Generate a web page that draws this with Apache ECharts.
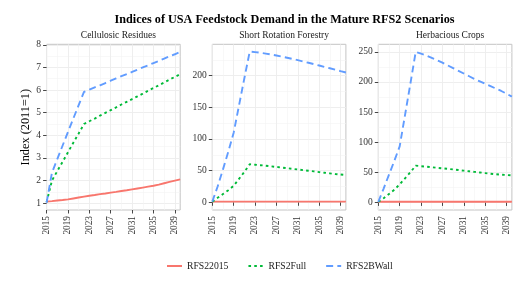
<!DOCTYPE html>
<html><head><meta charset="utf-8">
<script src="https://cdn.jsdelivr.net/npm/echarts@6/dist/echarts.min.js"></script>
<style>html,body{margin:0;padding:0;background:#fff}#c{width:528px;height:284px}</style>
</head><body><div id="c"></div>
<script>
const years = [2015,2016,2017,2018,2019,2020,2021,2022,2023,2024,2025,2026,2027,2028,2029,2030,2031,2032,2033,2034,2035,2036,2037,2038,2039,2040];
const panels = ['Cellulosic Residues','Short Rotation Forestry','Herbacious Crops'];
const scenarios = ['RFS22015','RFS2Full','RFS2BWall'];

// Cellulosic Residues
const crRFS22015 = [1.07,1.09,1.12,1.14,1.17,1.21,1.25,1.29,1.33,1.36,1.40,1.43,1.47,1.50,1.54,1.57,1.61,1.65,1.69,1.73,1.77,1.82,1.88,1.94,2.00,2.05];
const crRFS2Full = [1.05,2.00,2.42,2.83,3.25,3.67,4.08,4.50,4.62,4.74,4.87,4.99,5.11,5.23,5.36,5.48,5.60,5.72,5.84,5.97,6.09,6.21,6.33,6.46,6.58,6.70];
const crRFS2BWall = [1.02,2.35,2.95,3.55,4.15,4.74,5.33,5.92,6.02,6.12,6.21,6.31,6.41,6.51,6.61,6.70,6.80,6.90,7.00,7.09,7.19,7.29,7.39,7.49,7.58,7.68];
// Short Rotation Forestry
const srfRFS22015 = [1,1,1,1,1,1,1,1,1,1,1,1,1,1,1,1,1,1,1,1,1,1,1,1,1,1];
const srfRFS2Full = [1,7,13,19,26,37,48,60,59.4,58.6,57.7,56.8,55.8,54.8,53.8,52.8,51.8,50.8,49.8,48.8,47.7,46.7,45.7,44.7,43.8,43.0];
const srfRFS2BWall = [1,25,52,80,110,153,196,238,237.3,236.2,234.9,233.5,231.9,230.2,228.4,226.5,224.5,222.5,220.4,218.3,216.1,213.9,211.7,209.5,207.2,205.0];
// Herbacious Crops
const hcRFS22015 = [1,1,1,1,1,1,1,1,1,1,1,1,1,1,1,1,1,1,1,1,1,1,1,1,1,1];
const hcRFS2Full = [1,7,14,21,30,40,50,61,60.2,59.3,58.4,57.5,56.6,55.7,54.7,53.7,52.7,51.7,50.7,49.7,48.7,47.7,46.8,45.9,45.5,45.0];
const hcRFS2BWall = [1,23,46,69,93,145,197,250,247,244,240,236,232,227.5,223,218.5,214,209.5,205,201,197,193,189,185,180.5,175.5];

const xTicks = [2015,2019,2023,2027,2031,2035,2039];
const xMinor = [2017,2021,2025,2029,2033,2037];
const yTicks1 = [1,2,3,4,5,6,7,8];
const yMinor1 = [1.5,2.5,3.5,4.5,5.5,6.5,7.5];
const yTicks2 = [0,50,100,150,200];
const yMinor2 = [25,75,125,175,225];
const yTicks3 = [0,50,100,150,200,250];
const yMinor3 = [25,75,125,175,225];

const colors = ['#F8766D','#00BA38','#619CFF'];
const dashes = ['solid',[2.6,3.2],[7,4.2]];
const FONT = '"Liberation Serif","Times New Roman",serif';

const panelData = [
  [crRFS22015, crRFS2Full, crRFS2BWall],
  [srfRFS22015, srfRFS2Full, srfRFS2BWall],
  [hcRFS22015, hcRFS2Full, hcRFS2BWall]
];
const yRanges = [[0.70, 8.02], [-12.2, 249.6], [-12.6, 262.5]];
const yTicksAll = [yTicks1, yTicks2, yTicks3];
const yMinorAll = [yMinor1, yMinor2, yMinor3];
const gridLefts = [46.6, 212.3, 378.3];
const GW = 133.6, GT = 44.3, GH = 165.7;

const grids = [], xAxes = [], yAxes = [], series = [], titles = [];
titles.push({text:'Indices of USA Feedstock Demand in the Mature RFS2 Scenarios', left:279.5, top:8.5, textAlign:'center',
  textStyle:{fontFamily:FONT, fontWeight:'bold', fontSize:12.2, color:'#000'}});
for (let p = 0; p < 3; p++) {
  grids.push({left:gridLefts[p], top:GT, width:GW, height:GH, show:true, borderColor:'#c4c4c4', borderWidth:1, backgroundColor:'#fff'});
  titles.push({text:panels[p], left:gridLefts[p]+GW/2, top:25, textAlign:'center',
    textStyle:{fontFamily:FONT, fontWeight:'normal', fontSize:9.5, color:'#1a1a1a'}});
  xAxes.push({type:'value', gridIndex:p, min:2015, max:2040, position:'bottom',
    axisLine:{show:false},
    axisTick:{show:true, length:3.5, customValues:xTicks, lineStyle:{color:'#333', width:0.9}},
    axisLabel:{show:true, customValues:xTicks, rotate:90, margin:6, fontFamily:FONT, fontSize:9.3, color:'#333',
      formatter: v => String(v)},
    splitLine:{show:true, lineStyle:{color:'#ececec', width:0.9}}
  });
  xAxes.push({type:'value', gridIndex:p, min:2015, max:2040, position:'top',
    axisLine:{show:false}, axisLabel:{show:false},
    axisTick:{show:false, customValues:xMinor},
    splitLine:{show:true, lineStyle:{color:'#f4f4f4', width:0.6}}
  });
  const yAx = {type:'value', gridIndex:p, min:yRanges[p][0], max:yRanges[p][1], position:'left',
    axisLine:{show:false},
    axisTick:{show:true, length:3.5, customValues:yTicksAll[p], lineStyle:{color:'#333', width:0.9}},
    axisLabel:{show:true, customValues:yTicksAll[p], margin:5.5, fontFamily:FONT, fontSize:9.5, color:'#333',
      formatter: v => String(v)},
    splitLine:{show:true, lineStyle:{color:'#ececec', width:0.9}}
  };
  if (p === 0) {
    yAx.name = 'Index (2011=1)';
    yAx.nameLocation = 'middle';
    yAx.nameGap = 15;
    yAx.nameRotate = 90;
    yAx.nameTextStyle = {fontFamily:FONT, fontSize:12.3, color:'#000'};
  }
  yAxes.push(yAx);
  yAxes.push({type:'value', gridIndex:p, min:yRanges[p][0], max:yRanges[p][1], position:'right',
    axisLine:{show:false}, axisLabel:{show:false},
    axisTick:{show:false, customValues:yMinorAll[p]},
    splitLine:{show:true, lineStyle:{color:'#f4f4f4', width:0.6}}
  });
  for (let s = 0; s < 3; s++) {
    series.push({
      type:'line', name:scenarios[s], xAxisIndex:p*2, yAxisIndex:p*2,
      data: years.map((y,i) => [y, panelData[p][s][i]]),
      symbol:'none', showSymbol:false, silent:true, animation:false,
      lineStyle:{color:colors[s], width:1.9, type:dashes[s]},
      itemStyle:{color:colors[s]}, z:2+s
    });
  }
}

const chart = echarts.init(document.getElementById('c'), null, {renderer:'canvas'});
chart.setOption({
  animation:false,
  backgroundColor:'#fff',
  title:titles,
  grid:grids, xAxis:xAxes, yAxis:yAxes, series:series,
  legend:{data:scenarios, left:166, top:261, padding:0, itemWidth:15, itemHeight:10, itemGap:19,
    itemStyle:{opacity:0},
    textStyle:{fontFamily:FONT, fontSize:9.7, color:'#1a1a1a'}}
});
</script></body></html>
